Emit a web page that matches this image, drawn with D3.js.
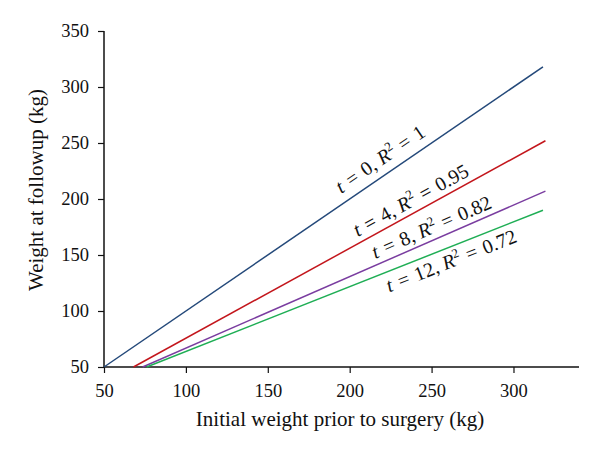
<!DOCTYPE html>
<html>
<head>
<meta charset="utf-8">
<script src="https://cdn.jsdelivr.net/npm/d3@7"></script>
<style>
  body { margin: 0; background: #fff; }
  text { font-family: "Liberation Serif", "DejaVu Serif", serif; fill: #111; }
</style>
</head>
<body>
<svg width="600" height="451"></svg>
<script>
const svg = d3.select("svg"),
      width = +svg.attr("width"),
      height = +svg.attr("height");

// data
const series = ["t0", "t4", "t8", "t12"];
const tValues = ["0", "4", "8", "12"];
const r2Values = ["1", "0.95", "0.82", "0.72"];
const startX = [50, 68, 73.6, 76];
const startY = [50, 50, 50, 50];
const endX = [318, 319.5, 319.5, 318];
const endY = [318, 252, 207, 190];
const labelX = [224, 241, 253, 259];   // where along the line the label sits
const colors = ["#24497a", "#c3161c", "#7a3da0", "#1fae55"];
const xTicks = [50, 100, 150, 200, 250, 300];
const yTicks = [50, 100, 150, 200, 250, 300, 350];

const margin = {left: 104, right: 21, top: 31, bottom: 84};

const x = d3.scaleLinear().domain([50, 340]).range([margin.left, width - margin.right]);
const y = d3.scaleLinear().domain([50, 350]).range([height - margin.bottom, margin.top]);

// axes
const xAxis = svg.append("g")
    .attr("transform", `translate(0,${y(50)})`)
    .call(d3.axisBottom(x).tickValues(xTicks).tickSize(6).tickPadding(11));
const yAxis = svg.append("g")
    .attr("transform", `translate(${x(50)},0)`)
    .call(d3.axisLeft(y).tickValues(yTicks).tickSize(6).tickPadding(9));

[xAxis, yAxis].forEach(a => {
    a.select(".domain").attr("stroke", "#111").attr("stroke-width", 1.5);
    a.selectAll(".tick line").attr("stroke", "#111").attr("stroke-width", 1.2);
    a.selectAll(".tick text")
        .style("font-family", '"Liberation Serif", serif')
        .style("font-size", "18.5px")
        .attr("fill", "#111");
});
// no end ticks on the domain lines
xAxis.select(".domain").attr("d", `M${x(50)},0H${x(340)}`);
yAxis.select(".domain").attr("d", `M0,${y(350)}V${y(50)}`);

// axis titles
svg.append("text")
    .attr("x", 340)
    .attr("y", 426)
    .attr("text-anchor", "middle")
    .style("font-size", "21px")
    .text("Initial weight prior to surgery (kg)");

svg.append("text")
    .attr("transform", "translate(43,190) rotate(-90)")
    .attr("text-anchor", "middle")
    .style("font-size", "21px")
    .text("Weight at followup (kg)");

// lines
const lineData = series.map((s, i) => ({
    key: s,
    pts: [[startX[i], startY[i]], [endX[i], endY[i]]],
    color: colors[i]
}));

const line = d3.line().x(d => x(d[0])).y(d => y(d[1]));

svg.append("g").selectAll("path")
    .data(lineData)
    .enter().append("path")
    .attr("d", d => line(d.pts))
    .attr("fill", "none")
    .attr("stroke", d => d.color)
    .attr("stroke-width", 1.5);

// labels along the lines
const labelOffset = [-9, -6, -6, 20];
const sp = "\u2004";
series.forEach((s, i) => {
    const x0 = x(startX[i]), y0 = y(startY[i]);
    const x1 = x(endX[i]), y1 = y(endY[i]);
    const ang = Math.atan2(y1 - y0, x1 - x0) * 180 / Math.PI;
    const frac = (labelX[i] - startX[i]) / (endX[i] - startX[i]);
    const ly = startY[i] + frac * (endY[i] - startY[i]);
    const t = svg.append("text")
        .attr("transform", `translate(${x(labelX[i])},${y(ly)}) rotate(${ang})`)
        .attr("text-anchor", "middle")
        .attr("dy", labelOffset[i])
        .style("font-size", "20px");
    t.append("tspan").style("font-style", "italic").text("t");
    t.append("tspan").text(`${sp}=${sp}${tValues[i]}, `);
    t.append("tspan").style("font-style", "italic").text("R");
    t.append("tspan").attr("dy", -8).style("font-size", "13px").text("2");
    t.append("tspan").attr("dy", 8).text(`${sp}=${sp}${r2Values[i]}`);
});
</script>
</body>
</html>
